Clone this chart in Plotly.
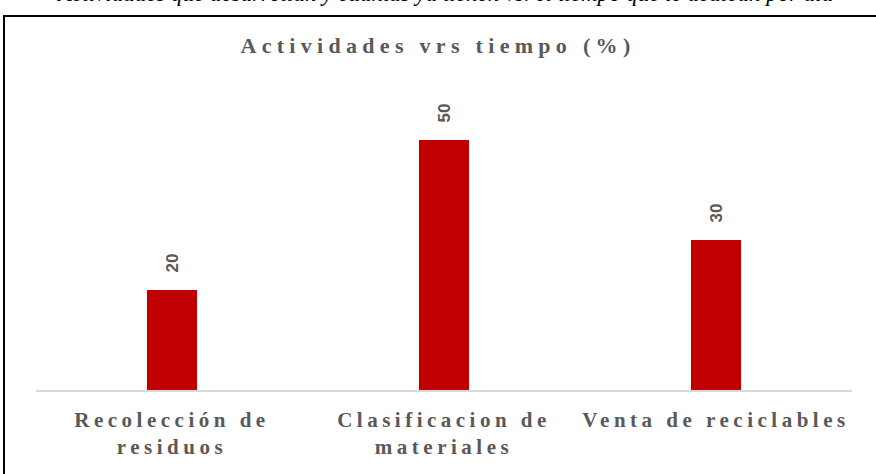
import plotly.graph_objects as go

categories = ["Recolección de<br>residuos", "Clasificacion de<br>materiales", "Venta de reciclables"]
values = [20, 50, 30]

title_text = "Actividades vrs tiempo (%)"
caption_text = "Actividades que desarrollan y cuántas ya tienen vs. el tiempo que le dedican por día"

bar_color = "#c00000"
text_gray = "#595959"

fig = go.Figure()

fig.add_trace(
    go.Bar(
        x=categories,
        y=values,
        marker=dict(color=bar_color, line=dict(width=0)),
        width=0.184,
        hoverinfo="skip",
    )
)

# rotated value labels above each bar
for cat, val in zip(categories, values):
    fig.add_annotation(
        x=cat,
        y=val,
        text=f"<b>{val}</b>",
        textangle=-90,
        showarrow=False,
        yanchor="bottom",
        yshift=15,
        font=dict(family="Liberation Sans, Arial", size=17, color=text_gray),
    )

# frame around the chart area (extends past the screenshot edges)
fig.add_shape(
    type="rect",
    xref="paper",
    yref="paper",
    x0=-0.0392,
    x1=1.04,
    y0=-0.32,
    y1=1.2467,
    line=dict(color="black", width=2),
    fillcolor="rgba(0,0,0,0)",
    layer="below",
)

# cut-off caption from the surrounding document
fig.add_annotation(
    xref="paper",
    yref="paper",
    x=0.5,
    y=1.272,
    yanchor="bottom",
    text=caption_text,
    showarrow=False,
    font=dict(family="Liberation Serif, Times New Roman", size=23, color="black", style="italic"),
)

fig.update_layout(
    width=876,
    height=474,
    margin=dict(l=36, r=24, t=90, b=84),
    paper_bgcolor="white",
    plot_bgcolor="white",
    showlegend=False,
    title=dict(
        text=f"<b>{title_text}</b>",
        x=0.5,
        xanchor="center",
        y=0.905,
        yanchor="middle",
        font=dict(family="Liberation Serif, Times New Roman", size=22, color=text_gray),
    ),
    xaxis=dict(
        showgrid=False,
        showline=True,
        linecolor="#d9d9d9",
        linewidth=1.5,
        ticks="",
        ticklabelstandoff=10,
        tickfont=dict(family="Liberation Serif, Times New Roman", size=21, color=text_gray, weight="bold"),
    ),
    yaxis=dict(
        range=[0, 60],
        showgrid=False,
        zeroline=False,
        showticklabels=False,
        showline=False,
    ),
)

letter_spacing_js = """
document.body.style.margin = '0';
document.querySelectorAll('.gtitle').forEach(function(t){ t.style.letterSpacing = '5.3px'; });
document.querySelectorAll('.xtick text').forEach(function(t){ t.style.letterSpacing = '4.5px'; });
"""

fig.write_html("out.html", post_script=letter_spacing_js, config={"displayModeBar": False})
